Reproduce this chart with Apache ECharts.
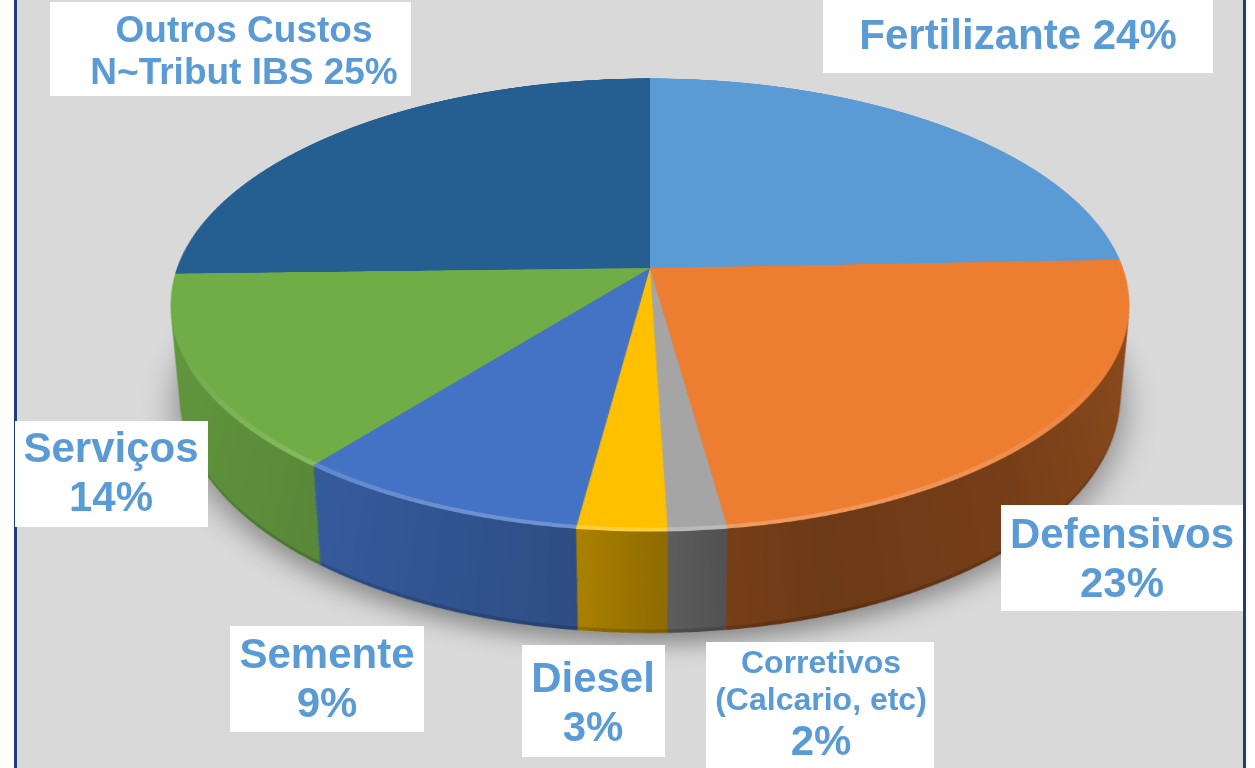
<!DOCTYPE html>
<html>
<head>
<meta charset="utf-8">
<script src="https://cdn.jsdelivr.net/npm/echarts@6/dist/echarts.min.js"></script>
<style>
  html, body { margin: 0; padding: 0; width: 1255px; height: 768px; overflow: hidden; background: #fff; }
  #panel { position: absolute; left: 14px; top: 0; width: 1226px; height: 768px; background: #d9d9d9;
           border-left: 3px solid #1f3b78; border-right: 3px solid #1f3b78; }
  #pie { position: absolute; left: -50px; top: -432px; width: 1400px; height: 1400px; transform-origin: 50% 50%; }
  #labels { position: absolute; left: 0; top: 0; width: 1255px; height: 768px; }
</style>
</head>
<body>
<div id="panel"></div>
<div id="pie"></div>
<div id="labels"></div>
<script>
// dados (ordem horaria a partir das 12h)
var categories = ['Fertilizante', 'Defensivos', 'Corretivos', 'Diesel', 'Semente', 'Serviços', 'Outros Custos'];
var subNames = ['', '', '(Calcario, etc)', '', '', '', 'N~Tribut IBS'];
var values = [24.4, 23.4, 1.7, 2.6, 8.6, 13.9, 25.4];
var colors = ['#5b9bd5', '#ed7d31', '#a5a5a5', '#ffc000', '#4472c4', '#70ad47', '#255e91'];

// layout das caixas de rotulo: [x, y, largura, altura, centroX do texto, centroY do texto]
var labelBoxes = [
  [823, 0, 390, 73, 1018, 37],
  [1001, 505, 242, 106, 1122, 561],
  [706, 642, 228, 130, 821, 706],
  [522, 645, 143, 112, 593, 705],
  [230, 626, 194, 106, 327, 681],
  [15, 421, 193, 106, 111, 475],
  [50, 2, 361, 94, 244, 53]
];

// geometria da "pizza 3D"
var CX = 700, CY = 700;
var R = 473;
var EYE = 2568;
var TILT_DEG = 62.2;
var TILT = TILT_DEG * Math.PI / 180;
var DEPTH = 104;
var LAYERS = 52;
var RIM = 6;

document.getElementById('pie').style.transform = 'perspective(' + EYE + 'px) rotateX(' + TILT_DEG + 'deg)';

// camada na profundidade h projetada de volta no plano do topo
function layer(h) {
  var c = Math.cos(TILT), s = Math.sin(TILT);
  return {
    dy: EYE * s * h / (EYE * c + h),
    r: R * EYE * c / (EYE * c + h)
  };
}

function rgb(hex) {
  return [parseInt(hex.substr(1, 2), 16), parseInt(hex.substr(3, 2), 16), parseInt(hex.substr(5, 2), 16)];
}
function shade(hex, f) {
  var c = rgb(hex).map(function (v) { return Math.max(0, Math.min(255, Math.round(v * f))); });
  return 'rgb(' + c.join(',') + ')';
}
function lighten(hex, f) {
  var c = rgb(hex).map(function (v) { return Math.round(v + (255 - v) * f); });
  return 'rgb(' + c.join(',') + ')';
}

// lateral mais clara a esquerda, mais escura a direita
var sideStops = [[0, 0.88], [0.19, 0.8], [0.43, 0.68], [0.5, 0.58], [0.56, 0.5], [0.65, 0.46], [0.83, 0.5], [1, 0.6]];
function sideColor(hex, extra) {
  return {
    type: 'linear', x: CX - R, y: 0, x2: CX + R, y2: 0, global: true,
    colorStops: sideStops.map(function (st) { return { offset: st[0], color: shade(hex, st[1] * extra) }; })
  };
}
function rimColor(hex) {
  return {
    type: 'linear', x: 0, y: CY + R * 0.4, x2: 0, y2: CY + R, global: true,
    colorStops: [{ offset: 0, color: hex }, { offset: 1, color: lighten(hex, 0.24) }]
  };
}

var total = values.reduce(function (a, b) { return a + b; }, 0);

function pieSeries(center, radius, data, extra) {
  var s = {
    type: 'pie',
    center: center,
    radius: radius,
    startAngle: 90,
    clockwise: true,
    minAngle: 0,
    silent: true,
    animation: false,
    avoidLabelOverlap: false,
    label: { show: false },
    labelLine: { show: false },
    emphasis: { disabled: true },
    itemStyle: { borderWidth: 0 },
    data: data
  };
  if (extra) s.itemStyle = extra;
  return s;
}

var series = [];
var bottom = layer(DEPTH);
// sombra por baixo
series.push(pieSeries([CX, CY + bottom.dy], bottom.r, [{ value: total }], {
  color: '#d9d9d9', shadowColor: 'rgba(0,0,0,0.38)', shadowBlur: 30, shadowOffsetY: 14
}));
for (var k = LAYERS; k >= 1; k--) {
  var g = layer(DEPTH * k / LAYERS);
  var extra = k >= LAYERS - 1 ? 0.85 : 1;
  series.push(pieSeries([CX, CY + g.dy], g.r, values.map(function (v, i) {
    return { name: categories[i], value: v, itemStyle: { color: sideColor(colors[i], extra) } };
  })));
}
// borda clara do topo
series.push(pieSeries([CX, CY], R, values.map(function (v, i) {
  return { name: categories[i], value: v, itemStyle: { color: rimColor(colors[i]) } };
})));
// face superior
series.push(pieSeries([CX, CY], R - RIM, values.map(function (v, i) {
  return { name: categories[i], value: v, itemStyle: { color: colors[i] } };
})));

var pieChart = echarts.init(document.getElementById('pie'), null, { width: 1400, height: 1400, devicePixelRatio: 2 });
pieChart.setOption({ animation: false, series: series });

// rotulos
var FONT = '"Liberation Sans", Arial, sans-serif';
var BLUE = '#5b9bd5';
function labelText(i) {
  var pct = Math.round(values[i]) + '%';
  if (i === 0) return categories[i] + ' ' + pct;
  if (i === 6) return '{m|' + categories[i] + '}\n{m|' + subNames[i] + ' ' + pct + '}';
  if (subNames[i]) return '{s|' + categories[i] + '}\n{s|' + subNames[i] + '}\n{c|' + pct + '}';
  return '{b|' + categories[i] + '}\n{b|' + pct + '}';
}
var rich = {
  b: { fontSize: 42, lineHeight: 49, fontWeight: 'bold', fontFamily: FONT, fill: BLUE, color: BLUE },
  c: { fontSize: 42, lineHeight: 46, fontWeight: 'bold', fontFamily: FONT, fill: BLUE, color: BLUE },
  m: { fontSize: 37, lineHeight: 42, fontWeight: 'bold', fontFamily: FONT, fill: BLUE, color: BLUE },
  s: { fontSize: 32, lineHeight: 37, fontWeight: 'bold', fontFamily: FONT, fill: BLUE, color: BLUE }
};

var elements = categories.map(function (name, i) {
  var b = labelBoxes[i];
  return {
    type: 'group',
    children: [
      { type: 'rect', shape: { x: b[0], y: b[1], width: b[2], height: b[3] }, style: { fill: '#fff' } },
      {
        type: 'text', x: b[4], y: b[5],
        style: {
          text: labelText(i), fill: BLUE, fontSize: 42, fontWeight: 'bold', fontFamily: FONT,
          align: 'center', verticalAlign: 'middle', rich: rich
        }
      }
    ]
  };
});

var labelChart = echarts.init(document.getElementById('labels'), null, { width: 1255, height: 768 });
labelChart.setOption({ animation: false, graphic: { elements: elements } });
</script>
</body>
</html>
